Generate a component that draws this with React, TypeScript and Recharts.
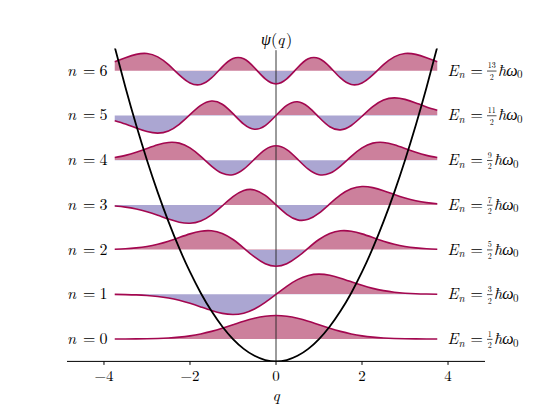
import { ComposedChart, Area, Line, XAxis, YAxis, ReferenceLine } from 'recharts';

const W = 539;
const H = 406;
// plot box in pixels (matches margins below)
const PLOT = { left: 67, right: 485, top: 48.4, bottom: 361.4 };
const Y_MAX = 7;
const MATH = "'Latin Modern Roman'";

const LINE_COLOR = '#a3074f';
const POS_FILL = '#990039';
const NEG_FILL = '#574da5';

const q = [
  -3.75, -3.5, -3.25, -3, -2.75, -2.5, -2.25, -2, -1.75, -1.5, -1.25, -1, -0.75, -0.5, -0.25, 0,
  0.25, 0.5, 0.75, 1, 1.25, 1.5, 1.75, 2, 2.25, 2.5, 2.75, 3, 3.25, 3.5, 3.75,
];

// potential well
const potential = [
  7.031, 6.125, 5.281, 4.5, 3.781, 3.125, 2.531, 2, 1.531, 1.125, 0.781, 0.5, 0.281, 0.125, 0.031, 0,
  0.031, 0.125, 0.281, 0.5, 0.781, 1.125, 1.531, 2, 2.531, 3.125, 3.781, 4.5, 5.281, 6.125, 7.031,
];

// wavefunctions, drawn relative to their energy level
const psi0 = [
  0.0, 0.001, 0.003, 0.006, 0.012, 0.023, 0.042, 0.071, 0.114, 0.171, 0.241, 0.319, 0.397, 0.464, 0.51, 0.526,
  0.51, 0.464, 0.397, 0.319, 0.241, 0.171, 0.114, 0.071, 0.042, 0.023, 0.012, 0.006, 0.003, 0.001, 0.0,
];
const psi1 = [
  -0.002, -0.006, -0.012, -0.025, -0.047, -0.082, -0.133, -0.201, -0.281, -0.362, -0.426, -0.451, -0.421, -0.328, -0.18, 0,
  0.18, 0.328, 0.421, 0.451, 0.426, 0.362, 0.281, 0.201, 0.133, 0.082, 0.047, 0.025, 0.012, 0.006, 0.002,
];
const psi2 = [
  0.009, 0.019, 0.038, 0.07, 0.12, 0.188, 0.27, 0.352, 0.412, 0.422, 0.362, 0.226, 0.035, -0.164, -0.315, -0.372,
  -0.315, -0.164, 0.035, 0.226, 0.362, 0.422, 0.412, 0.352, 0.27, 0.188, 0.12, 0.07, 0.038, 0.019, 0.009,
];
const psi3 = [
  -0.025, -0.05, -0.091, -0.152, -0.231, -0.317, -0.387, -0.411, -0.359, -0.222, -0.022, 0.184, 0.322, 0.335, 0.211, 0,
  -0.211, -0.335, -0.322, -0.184, 0.022, 0.222, 0.359, 0.411, 0.387, 0.317, 0.231, 0.152, 0.091, 0.05, 0.025,
];
const psi4 = [
  0.059, 0.107, 0.176, 0.261, 0.345, 0.397, 0.382, 0.276, 0.087, -0.131, -0.294, -0.325, -0.201, 0.024, 0.236, 0.322,
  0.236, 0.024, -0.201, -0.325, -0.294, -0.131, 0.087, 0.276, 0.382, 0.397, 0.345, 0.261, 0.176, 0.107, 0.059,
];
const psi5 = [
  -0.118, -0.192, -0.281, -0.36, -0.394, -0.345, -0.198, 0.018, 0.224, 0.322, 0.252, 0.041, -0.193, -0.307, -0.226, 0,
  0.226, 0.307, 0.193, -0.041, -0.252, -0.322, -0.224, -0.018, 0.198, 0.345, 0.394, 0.36, 0.281, 0.192, 0.118,
];
const psi6 = [
  0.202, 0.291, 0.366, 0.385, 0.31, 0.135, -0.092, -0.273, -0.307, -0.16, 0.087, 0.273, 0.267, 0.067, -0.182, -0.294,
  -0.182, 0.067, 0.267, 0.273, 0.087, -0.16, -0.307, -0.273, -0.092, 0.135, 0.31, 0.385, 0.366, 0.291, 0.202,
];

const waves = [psi0, psi1, psi2, psi3, psi4, psi5, psi6];
const levels = [0, 1, 2, 3, 4, 5, 6];
const energies = [0.5, 1.5, 2.5, 3.5, 4.5, 5.5, 6.5];
const energyNumerators = ['1', '3', '5', '7', '9', '11', '13'];
const xTicks = [-4, -2, 0, 2, 4];

const data = q.map((x, i) => {
  const row: Record<string, any> = { q: x, V: potential[i] };
  waves.forEach((w, n) => {
    row[`a${n}`] = [energies[n], energies[n] + w[i]];
    row[`y${n}`] = energies[n] + w[i];
  });
  return row;
});

const yPx = (v: number) => PLOT.top + ((Y_MAX - v) / Y_MAX) * (PLOT.bottom - PLOT.top);

const serif = { fontFamily: MATH };
const italic = { fontFamily: MATH, fontStyle: 'italic' as const };

function LevelLabel({ n, y }: { n: number; y: number }) {
  return (
    <g fill="#000" fontSize={16}>
      <text x={67} y={y + 5} style={italic}>n</text>
      <text x={83} y={y + 5} style={serif}>=</text>
      <text x={99.5} y={y + 5} style={serif}>{n}</text>
    </g>
  );
}

function EnergyLabel({ num, y }: { num: string; y: number }) {
  const tb = y + 5;
  const fx = 487;
  const fw = num.length > 1 ? 9.5 : 5.5;
  const cx = fx + fw / 2;
  return (
    <g fill="#000">
      <text x={447.5} y={tb} fontSize={16} style={italic}>E</text>
      <text x={458.5} y={tb + 2.5} fontSize={11} style={italic}>n</text>
      <text x={470.5} y={tb} fontSize={16} style={serif}>=</text>
      {/* fraction num/2 */}
      <text x={cx} y={y - 2.3} fontSize={8} textAnchor="middle" style={serif}>{num}</text>
      <line x1={fx} x2={fx + fw} y1={y + 0.3} y2={y + 0.3} stroke="#000" strokeWidth={0.7} />
      <text x={cx} y={y + 9.2} fontSize={8} textAnchor="middle" style={serif}>2</text>
      <text x={fx + fw + 1.5} y={tb} fontSize={16} style={italic}>ħω</text>
      <text x={fx + fw + 20.5} y={tb + 2.5} fontSize={11} style={serif}>0</text>
    </g>
  );
}

export default function App() {
  return (
    <div style={{ position: 'relative', width: W, height: H, margin: '-8px 0 0 -8px', background: '#fff' }}>
      <ComposedChart
        width={W}
        height={H}
        data={data}
        margin={{ top: PLOT.top, right: W - PLOT.right, left: PLOT.left, bottom: H - PLOT.bottom - 30 }}
      >
        <defs>
          {levels.map((n) => {
            const off = yPx(energies[n]) / H;
            return (
              <linearGradient key={n} id={`fill${n}`} gradientUnits="userSpaceOnUse" x1={0} y1={0} x2={0} y2={H}>
                <stop offset={0} stopColor={POS_FILL} stopOpacity={0.5} />
                <stop offset={off} stopColor={POS_FILL} stopOpacity={0.5} />
                <stop offset={off} stopColor={NEG_FILL} stopOpacity={0.5} />
                <stop offset={1} stopColor={NEG_FILL} stopOpacity={0.5} />
              </linearGradient>
            );
          })}
        </defs>
        <XAxis
          dataKey="q"
          type="number"
          domain={[-4.86, 4.86]}
          allowDataOverflow
          ticks={xTicks}
          height={30}
          tickSize={3.5}
          tickMargin={5}
          axisLine={{ stroke: '#000', strokeWidth: 1 }}
          tickLine={{ stroke: '#000', strokeWidth: 1 }}
          tick={{ fill: '#000', fontSize: 15, style: serif }}
          tickFormatter={(v: number) => (v < 0 ? `\u2212${-v}` : `${v}`)}
        />
        <YAxis hide type="number" domain={[0, Y_MAX]} allowDataOverflow />
        {levels.map((n) => (
          <Area
            key={`a${n}`}
            dataKey={`a${n}`}
            type="natural"
            fill={`url(#fill${n})`}
            fillOpacity={1}
            stroke="none"
            isAnimationActive={false}
            dot={false}
            activeDot={false}
          />
        ))}
        <ReferenceLine
          segment={[{ x: 0, y: 0 }, { x: 0, y: 6.96 }]}
          stroke="#222"
          strokeWidth={0.9}
        />
        {levels.map((n) => (
          <Line
            key={`y${n}`}
            dataKey={`y${n}`}
            type="natural"
            stroke={LINE_COLOR}
            strokeWidth={1.6}
            dot={false}
            activeDot={false}
            isAnimationActive={false}
          />
        ))}
        <Line
          dataKey="V"
          type="natural"
          stroke="#000"
          strokeWidth={1.8}
          dot={false}
          activeDot={false}
          isAnimationActive={false}
        />
      </ComposedChart>
      <svg width={W} height={H} style={{ position: 'absolute', left: 0, top: 0, pointerEvents: 'none' }}>
        {levels.map((n) => (
          <LevelLabel key={`l${n}`} n={n} y={yPx(energies[n])} />
        ))}
        {levels.map((n) => (
          <EnergyLabel key={`e${n}`} num={energyNumerators[n]} y={yPx(energies[n])} />
        ))}
        <text x={261} y={45} fontSize={16} fill="#000" style={italic}>ψ</text>
        <text x={271} y={45} fontSize={16} fill="#000" style={serif}>(</text>
        <text x={277} y={45} fontSize={16} fill="#000" style={italic}>q</text>
        <text x={286} y={45} fontSize={16} fill="#000" style={serif}>)</text>
        <text x={276} y={401} textAnchor="middle" fontSize={15.5} fill="#000" style={italic}>q</text>
      </svg>
    </div>
  );
}
